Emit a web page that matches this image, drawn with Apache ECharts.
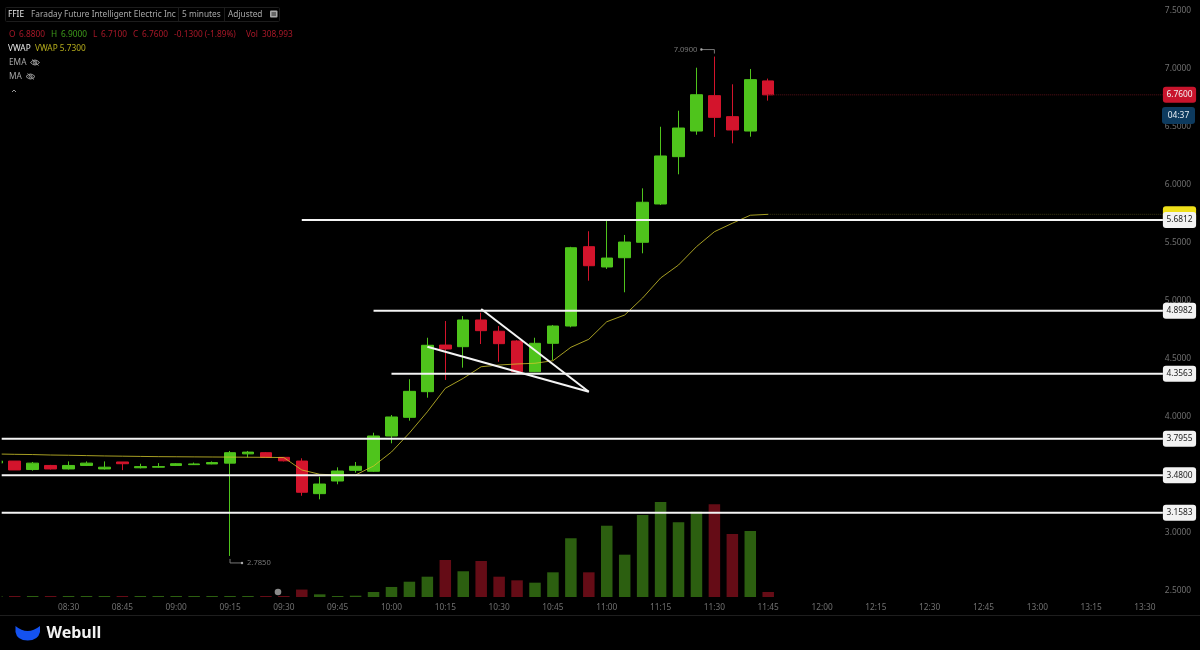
<!DOCTYPE html>
<html>
<head>
<meta charset="utf-8">
<title>FFIE 5 minutes</title>
<script src="https://cdn.jsdelivr.net/npm/echarts@6/dist/echarts.min.js"></script>
<style>
  html, body { margin: 0; background: #000; }
  #chart { width: 1200px; height: 650px; }
</style>
</head>
<body>
<div id="chart"></div>
<script>
const categories = [
  "08:10","08:15","08:20","08:25","08:30","08:35","08:40","08:45","08:50","08:55","09:00","09:05",
  "09:10","09:15","09:20","09:25","09:30","09:35","09:40","09:45","09:50","09:55","10:00","10:05",
  "10:10","10:15","10:20","10:25","10:30","10:35","10:40","10:45","10:50","10:55","11:00","11:05",
  "11:10","11:15","11:20","11:25","11:30","11:35","11:40","11:45","11:50","11:55","12:00","12:05",
  "12:10","12:15","12:20","12:25","12:30","12:35","12:40","12:45","12:50","12:55","13:00","13:05",
  "13:10","13:15","13:20","13:25","13:30","13:35"
];
const timeTicks = ["08:30","08:45","09:00","09:15","09:30","09:45","10:00","10:15","10:30","10:45",
  "11:00","11:15","11:30","11:45","12:00","12:15","12:30","12:45","13:00","13:15","13:30"];

// open, close, low, high
const candles = [
  [3.586,3.603,3.58,3.61],[3.603,3.526,3.526,3.603],[3.53,3.585,3.52,3.595],[3.565,3.535,3.53,3.57],
  [3.535,3.565,3.53,3.60],[3.565,3.585,3.56,3.60],[3.535,3.55,3.53,3.60],[3.595,3.58,3.525,3.595],
  [3.545,3.555,3.54,3.58],[3.55,3.555,3.545,3.585],[3.565,3.58,3.56,3.585],[3.572,3.578,3.57,3.59],
  [3.578,3.59,3.575,3.60],[3.585,3.675,2.785,3.69],[3.665,3.68,3.635,3.69],[3.675,3.635,3.635,3.68],
  [3.635,3.605,3.60,3.635],[3.603,3.334,3.304,3.627],[3.322,3.405,3.273,3.468],[3.431,3.517,3.403,3.549],
  [3.523,3.558,3.503,3.595],[3.515,3.819,3.509,3.847],[3.819,3.983,3.756,4.0],[3.98,4.204,3.951,4.308],
  [4.201,4.601,4.149,4.666],[4.603,4.569,4.302,4.81],[4.589,4.819,4.408,4.853],[4.819,4.727,4.612,4.882],
  [4.722,4.615,4.459,4.767],[4.638,4.373,4.365,4.645],[4.373,4.618,4.37,4.666],[4.618,4.767,4.474,4.776],
  [4.767,5.442,4.756,5.45],[5.451,5.287,5.158,5.584],[5.276,5.353,5.259,5.675],[5.356,5.491,5.058,5.552],
  [5.489,5.834,5.394,5.954],[5.819,6.233,5.81,6.485],[6.227,6.474,6.075,6.623],[6.448,6.761,6.416,6.994],
  [6.753,6.566,6.397,7.09],[6.572,6.457,6.342,6.851],[6.448,6.891,6.399,6.983],[6.88,6.76,6.71,6.90]
];
const volumes = [
  50000,60000,55000,50000,60000,55000,50000,55000,50000,45000,50000,45000,
  50000,60000,55000,45000,60000,460000,165000,60000,80000,310000,620000,945000,
  1255000,2285000,1590000,2225000,1255000,1030000,885000,1525000,3630000,1525000,4405000,2615000,
  5070000,5870000,4615000,5270000,5730000,3895000,4080000,308993
];
const vwap = [
  3.664,3.661,3.659,3.655,3.653,3.65,3.647,3.645,3.643,3.641,3.64,3.639,
  3.638,3.637,3.636,3.635,3.633,3.526,3.489,3.483,3.483,3.56,3.681,3.845,
  4.028,4.23,4.316,4.416,4.431,4.44,4.446,4.468,4.584,4.653,4.804,4.862,
  5.009,5.181,5.293,5.451,5.58,5.653,5.722,5.73
];
const levelPrices = [5.6812, 4.8982, 4.3563, 3.7955, 3.48, 3.1583];
const levelStarts = [17, 21, 22, 0, 0, 0];
const wedgeLower = [[24, 4.589], [33, 4.2]];
const wedgeUpper = [[27, 4.914], [33, 4.2]];
const lastPrice = 6.76;
const lastVwap = 5.73;

const UP = "#4fc41c", DOWN = "#d3142c", UP_VOL = "#2c5f10", DOWN_VOL = "#650c16";
const FONT = '"Noto Sans"';
const lastCat = categories.length - 1;
const lastBar = candles.length - 1;

echarts.graphic.registerShape("wbEye", echarts.graphic.extendPath(
  "M-4.5 0 Q0 -5 4.5 0 Q0 5 -4.5 0 Z M-3 -3 L3.5 3 M1.6 0 A1.6 1.6 0 1 1 -1.6 0 A1.6 1.6 0 1 1 1.6 0 Z"));
echarts.graphic.registerShape("wbCrescent", echarts.graphic.extendPath(
  "M15.5 626 Q27.5 636 40 626 L40 632 Q38 640.5 27.7 640.5 Q17 640.5 15.5 632 Z"));

const tagLabel = (bg, fg) => ({
  show: true, distance: 0, formatter: p => p.value[1].toFixed(4),
  backgroundColor: bg, color: fg, borderRadius: 3,
  fontFamily: FONT, fontSize: 8.4, padding: [4.5, 3.5, 3.5, 3.5]
});

function levelSeries(price, start) {
  return {
    type: "line", data: [[start, price], [lastCat, price]], symbol: "none", z: 5,
    lineStyle: { color: "#f4f4f4", width: 2 },
    endLabel: tagLabel("#f2f2f2", "#222")
  };
}
function wedgeSeries(pts) {
  return { type: "line", data: pts, symbol: "none", z: 6, lineStyle: { color: "#f4f4f4", width: 2 } };
}
function tagSeries(price, lineColor, bg, fg) {
  return {
    type: "line", data: [[lastBar, price], [lastCat, price]], symbol: "none", z: 4,
    lineStyle: { color: lineColor, width: 1, type: "dotted" },
    endLabel: tagLabel(bg, fg)
  };
}

function txt(x, y, text, fill, size) {
  return { type: "text", x, y, z: 20, style: { text, fill, font: (size || 8.3) + "px " + FONT, verticalAlign: "middle" } };
}
function eye(cx, cy) {
  return { type: "wbEye", x: cx, y: cy, z: 20, shape: {}, style: { fill: "none", stroke: "#999", lineWidth: 1 } };
}

const RED_TXT = "#a81828", GREEN_TXT = "#3d9a1a", GREY_TXT = "#a8a8a8";
const headerParts = [
  [8, "FFIE", "#e8e8e8"], [31, "Faraday Future Intelligent Electric Inc", GREY_TXT],
  [182, "5 minutes", GREY_TXT], [228, "Adjusted", GREY_TXT]
];
const quoteParts = [
  [9, "O", RED_TXT], [19, "6.8800", RED_TXT], [51, "H", GREEN_TXT], [61, "6.9000", GREEN_TXT],
  [93, "L", RED_TXT], [101, "6.7100", RED_TXT], [133, "C", RED_TXT], [142, "6.7600", RED_TXT],
  [174, "-0.1300 (-1.89%)", RED_TXT], [246, "Vol", RED_TXT], [262, "308,993", RED_TXT]
];

const overlay = [
  // left edge of the plot
  { type: "rect", z: 19, shape: { x: 0, y: 0, width: 1.7, height: 600 }, style: { fill: "#000" } },
  // header box
  { type: "rect", z: 19, shape: { x: 5.5, y: 7.5, width: 274, height: 14, r: 1 }, style: { fill: "#000", stroke: "#1c1c1c" } },
  { type: "line", z: 20, shape: { x1: 178.5, y1: 7.5, x2: 178.5, y2: 21.5 }, style: { stroke: "#1c1c1c" } },
  { type: "line", z: 20, shape: { x1: 224.5, y1: 7.5, x2: 224.5, y2: 21.5 }, style: { stroke: "#1c1c1c" } },
  { type: "rect", z: 20, shape: { x: 270, y: 10.5, width: 7.5, height: 7, r: 1 }, style: { fill: "#a8a8a8" } },
  { type: "line", z: 21, shape: { x1: 271.5, y1: 13, x2: 276, y2: 13 }, style: { stroke: "#222" } },
  { type: "line", z: 21, shape: { x1: 271.5, y1: 15, x2: 276, y2: 15 }, style: { stroke: "#222" } },
  ...headerParts.map(p => txt(p[0], 15, p[1], p[2])),
  ...quoteParts.map(p => txt(p[0], 35, p[1], p[2])),
  txt(8, 49, "VWAP", "#e8e8e8"), txt(35, 49, "VWAP 5.7300", "#b5ac1c"),
  txt(9, 63, "EMA", GREY_TXT), eye(35, 62.5),
  txt(9, 77, "MA", GREY_TXT), eye(30.5, 76.5),
  { type: "polyline", z: 20, shape: { points: [[12, 92], [14, 90], [16, 92]] }, style: { fill: "none", stroke: "#999" } },
  // countdown tag
  { type: "rect", z: 30, shape: { x: 1162, y: 107, width: 33, height: 17, r: 3 }, style: { fill: "#0d3a5e" } },
  { type: "text", x: 1178.5, y: 116, z: 31, style: { text: "04:37", fill: "#e8eef4", font: "8.4px " + FONT, align: "center", verticalAlign: "middle" } },
  // footer
  { type: "line", z: 20, shape: { x1: 0, y1: 615.5, x2: 1200, y2: 615.5 }, style: { stroke: "#1e1e1e" } },
  { type: "wbCrescent", z: 20, shape: {}, style: { fill: "#1452f0" } },
  { type: "text", x: 46.5, y: 633.5, z: 20, style: { text: "Webull", fill: "#f2f2f2", font: "bold 16px " + FONT, verticalAlign: "middle" } },
  // volume pane marker
  { type: "circle", z: 20, shape: { cx: 278, cy: 592, r: 3.3 }, style: { fill: "#8a8a8a" } }
];

const BAND = 17.94;
const gridLeft = -12.17;
const gridWidth = BAND * categories.length;

const chart = echarts.init(document.getElementById("chart"));
chart.setOption({
  animation: false,
  backgroundColor: "#000",
  textStyle: { fontFamily: FONT },
  grid: [
    { left: gridLeft, width: gridWidth, top: 9, height: 580, outerBoundsMode: "none" },
    { left: gridLeft, width: gridWidth, top: 497, height: 100, outerBoundsMode: "none" }
  ],
  xAxis: [
    { type: "category", gridIndex: 0, data: categories, show: false },
    {
      type: "category", gridIndex: 1, data: categories,
      axisLine: { show: false }, axisTick: { show: false }, splitLine: { show: false },
      axisLabel: {
        color: "#707070", fontSize: 8.3, margin: 6.5, fontFamily: FONT,
        interval: (i, v) => timeTicks.includes(v)
      }
    }
  ],
  yAxis: [
    {
      type: "value", gridIndex: 0, position: "right", min: 2.5, max: 7.5, interval: 0.5,
      axisLine: { show: false }, axisTick: { show: false }, splitLine: { show: false },
      axisLabel: {
        color: "#707070", fontSize: 8.4, margin: -7, verticalAlign: "top", lineHeight: 3, fontFamily: FONT,
        formatter: v => v.toFixed(4)
      }
    },
    { type: "value", gridIndex: 1, min: 0, max: 6180000, show: false, splitLine: { show: false } }
  ],
  series: [
    {
      type: "bar", xAxisIndex: 1, yAxisIndex: 1, barWidth: 11.5, barMinHeight: 1, z: 1,
      data: volumes.map((v, i) => ({
        value: v,
        itemStyle: { color: candles[i][1] < candles[i][0] ? DOWN_VOL : UP_VOL }
      }))
    },
    {
      type: "candlestick", data: candles, barWidth: 12, z: 2,
      itemStyle: { color: UP, color0: DOWN, borderColor: UP, borderColor0: DOWN, borderWidth: 1 }
    },
    {
      type: "line", data: vwap, symbol: "none", z: 3,
      lineStyle: { color: "#cfc62c", width: 1, opacity: 0.8 }
    },
    tagSeries(lastVwap, "#3a3712", "#efe01a", "#efe01a"),
    tagSeries(lastPrice, "#5a1018", "#c8142c", "#f2f2f2"),
    ...levelPrices.map((p, i) => levelSeries(p, levelStarts[i])),
    wedgeSeries(wedgeLower),
    wedgeSeries(wedgeUpper)
  ],
  graphic: overlay
});

// high and low callouts, placed from the data
function callout(idx, price, dir) {
  const pt = chart.convertToPixel({ xAxisIndex: 0, yAxisIndex: 0 }, [idx, price]);
  const x = pt[0];
  const stroke = "#777";
  const yLine = dir > 0 ? pt[1] + 7 : pt[1] - 7;
  const xEnd = dir > 0 ? x + 12 : x - 13;
  return [
    { type: "polyline", z: 20, shape: { points: [[x, pt[1] + (dir > 0 ? 3 : -3)], [x, yLine], [xEnd, yLine]] }, style: { fill: "none", stroke, lineWidth: 1 } },
    { type: "circle", z: 20, shape: { cx: xEnd, cy: yLine, r: 1.2 }, style: { fill: "#aaa" } },
    {
      type: "text", x: dir > 0 ? xEnd + 5 : xEnd - 4, y: yLine, z: 20,
      style: { text: price.toFixed(4), fill: "#777", font: "7.6px " + FONT, align: dir > 0 ? "left" : "right", verticalAlign: "middle" }
    }
  ];
}
chart.setOption({ graphic: overlay.concat(callout(13, 2.785, 1), callout(40, 7.09, -1)) });
</script>
</body>
</html>
